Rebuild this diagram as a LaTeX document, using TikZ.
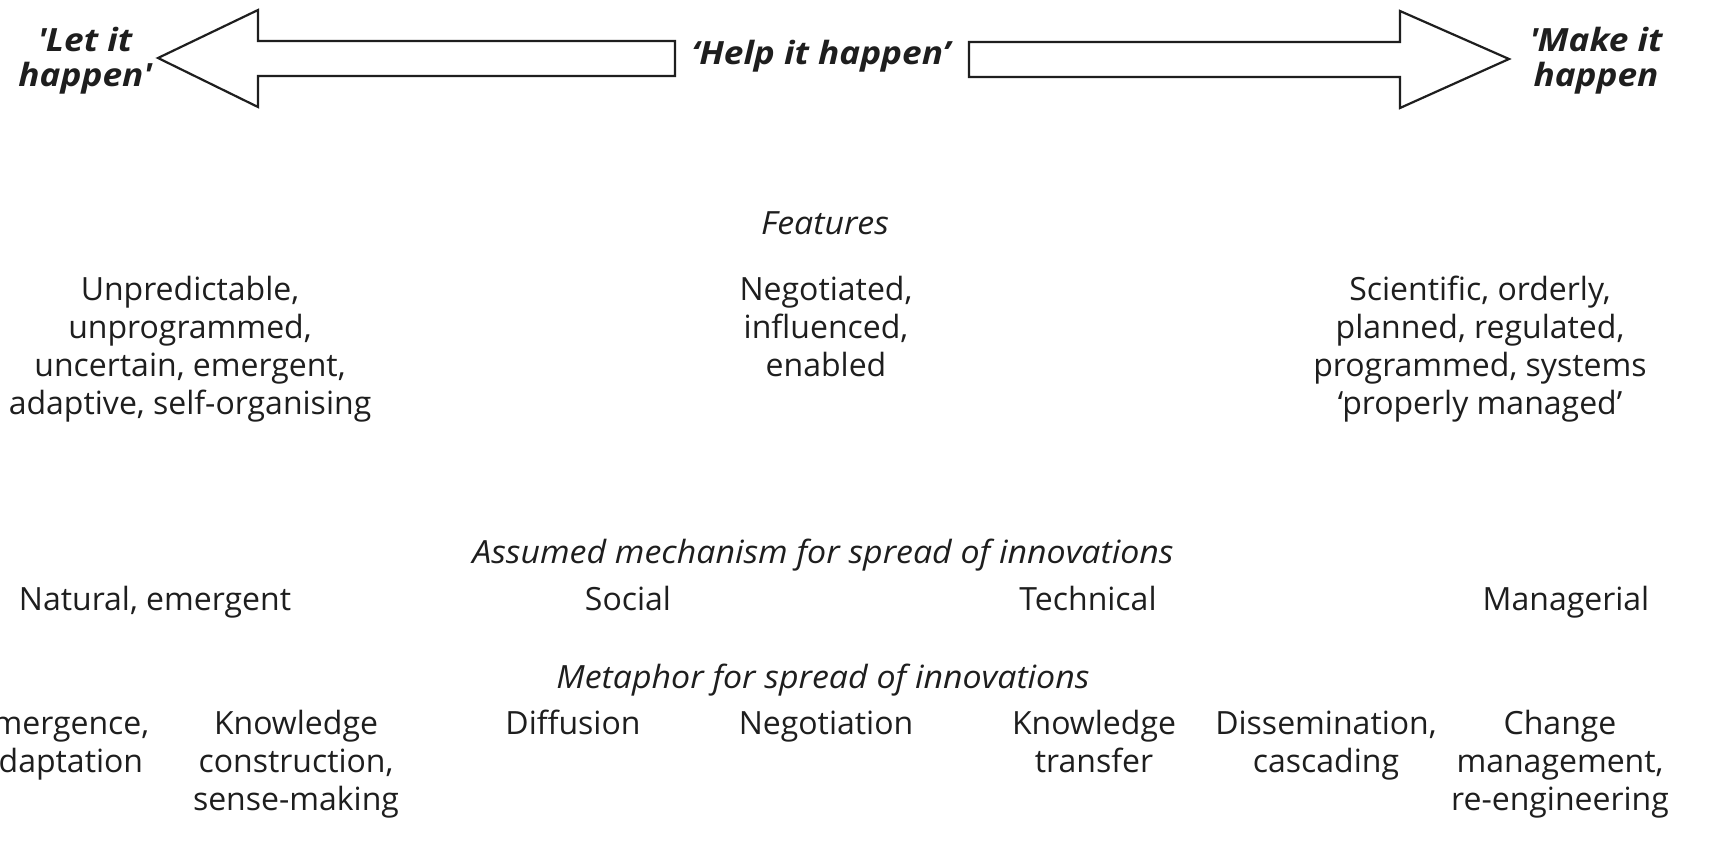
\documentclass[tikz,border=0pt]{standalone}
\usepackage{fontspec}
\setmainfont{Open Sans}
\usepackage{xcolor}
\definecolor{ink}{RGB}{30,30,30}

\begin{document}
\begin{tikzpicture}[x=1pt,y=-1pt]
\tikzstyle{every node}+=[inner sep=0pt,text=ink]
\tikzstyle{body}=[font=\fontsize{32}{38}\selectfont,align=center,anchor=base]
\tikzstyle{head}=[font=\fontsize{32}{38}\selectfont\itshape\addfontfeatures{FakeStretch=1.06},anchor=base]
\tikzstyle{pole}=[font=\fontsize{32}{35}\selectfont\bfseries\itshape\addfontfeatures{FakeStretch=1.1},align=center,anchor=base]
\tikzstyle{band}=[draw=ink,line width=2.2pt,line join=miter,fill=white]
\useasboundingbox (0,0) rectangle (1711,852);
\clip (0,0) rectangle (1711,852);
\fill [white] (0,0) rectangle (1711,852);
% the two wide arrows
\draw [band] (675,41) -- (258,41) -- (258,10) -- (158,58) -- (258,107) -- (258,76) -- (675,76) -- cycle;
\draw [band] (969,42) -- (1400,42) -- (1400,11) -- (1509,59) -- (1400,108) -- (1400,77) -- (969,77) -- cycle;
\node [pole] (letit) at (85,86) {\textquotesingle Let it\\happen\textquotesingle};
\node [pole] (helpit) at (821,64) {‘Help it happen’};
\node [pole] (makeit) at (1596,86) {\textquotesingle Make it\\happen};
% features
\node [head] (feat) at (825,234) {Features};
\node [body] (featl) at (190,414) {Unpredictable,\\unprogrammed,\\uncertain, emergent,\\adaptive, self-organising};
\node [body] (featm) at (826,376) {Negotiated,\\influenced,\\enabled};
\node [body] (featr) at (1480,414) {Scientific, orderly,\\planned, regulated,\\programmed, systems\\‘properly managed’};
% mechanism
\node [head] (mech) at (823,563) {Assumed mechanism for spread of innovations};
\node [body] (mech1) at (155,610) {Natural, emergent};
\node [body] (mech2) at (628,610) {Social};
\node [body] (mech3) at (1088,610) {Technical};
\node [body] (mech4) at (1566,610) {Managerial};
% metaphor
\node [head] (meta) at (823,688) {Metaphor for spread of innovations};
\node [body] (meta1) at (62,772) {Emergence,\\adaptation};
\node [body] (meta2) at (296,810) {Knowledge\\construction,\\sense-making};
\node [body] (meta3) at (573,734) {Diffusion};
\node [body] (meta4) at (826,734) {Negotiation};
\node [body] (meta5) at (1094,772) {Knowledge\\transfer};
\node [body] (meta6) at (1326,772) {Dissemination,\\cascading};
\node [body] (meta7) at (1560,810) {Change\\management,\\re-engineering};
\end{tikzpicture}
\end{document}
